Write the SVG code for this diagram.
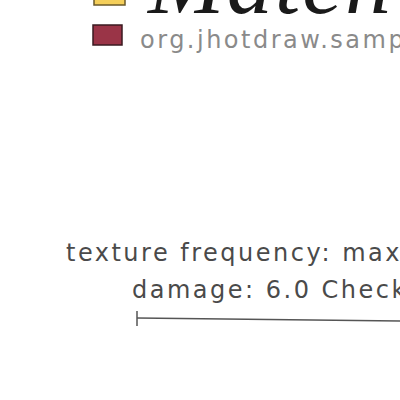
<svg xmlns="http://www.w3.org/2000/svg" width="400" height="400" viewBox="0 0 400 400">
<style>
.lbl{font-family:"DejaVu Sans",sans-serif;fill:#4a4a4a;font-size:24px;letter-spacing:2.5px}
.leg{font-family:"DejaVu Sans",sans-serif;fill:#8a8a8a;font-size:24px;letter-spacing:2.5px}
</style>
<rect width="400" height="400" fill="#ffffff"/>
<g id="legend">
<rect x="94" y="-10" width="31" height="15" fill="#f5cf5a" stroke="#6b5a2a" stroke-width="1.5"/>
<text x="148" y="13" font-family="Liberation Serif,serif" font-style="italic" font-size="92" letter-spacing="2" fill="#1a1a1a">Match</text>
<rect x="93" y="25" width="29" height="20" fill="#9a3447" stroke="#3a1a20" stroke-width="1.5"/>
<text class="leg" x="140" y="48">org.jhotdraw.samp</text>
</g>
<g id="node">
<text class="lbl" x="66" y="261">texture frequency: max</text>
<text class="lbl" x="132" y="298">damage: 6.0 Check</text>
</g>
<g id="connectors">
<line x1="137" y1="318" x2="400" y2="321" stroke="#555" stroke-width="1.5"/>
<line x1="137" y1="311" x2="137" y2="326" stroke="#555" stroke-width="1.5"/>
</g>
</svg>
